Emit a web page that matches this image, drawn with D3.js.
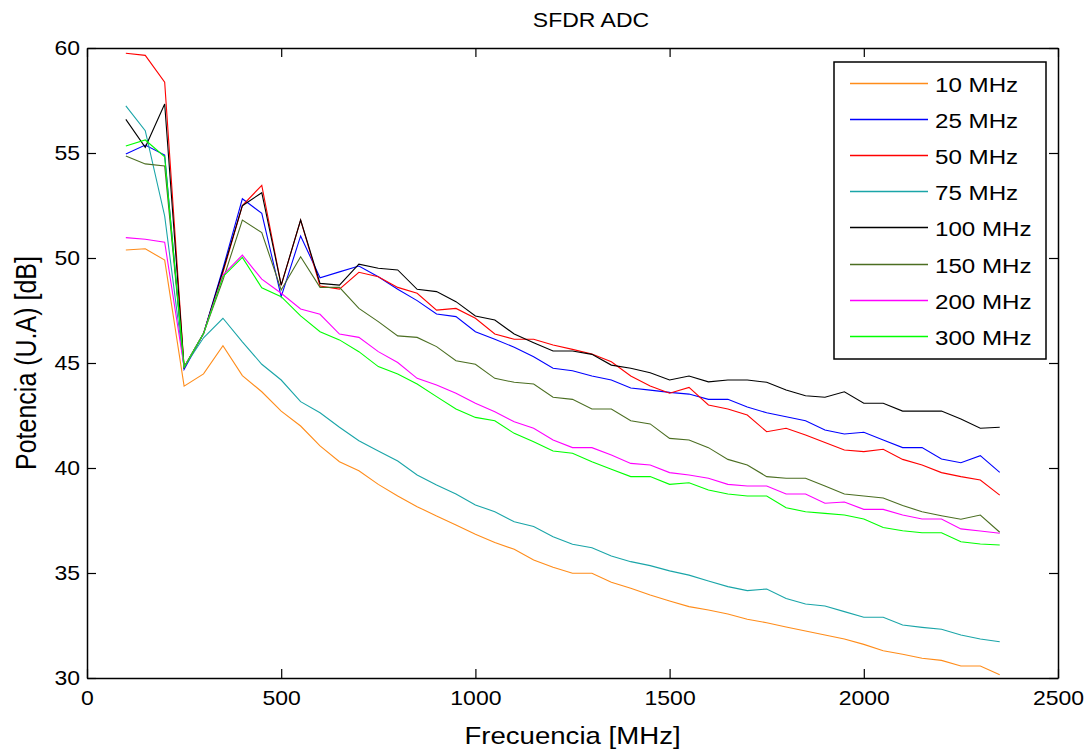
<!DOCTYPE html>
<html>
<head>
<meta charset="utf-8">
<script src="https://cdn.jsdelivr.net/npm/d3@7"></script>
<style>
  body { margin: 0; background: #fff; }
  text { font-family: "Liberation Sans", Arial, sans-serif; fill: #000; }
</style>
</head>
<body>
<svg width="1089" height="750"></svg>
<script>
// frequency axis (MHz)
const freq = [100,150,200,250,300,350,400,450,500,550,600,650,700,750,800,850,900,950,1000,1050,
  1100,1150,1200,1250,1300,1350,1400,1450,1500,1550,1600,1650,1700,1750,1800,1850,1900,1950,2000,2050,
  2100,2150,2200,2250,2300,2350];

const labels = ['10 MHz','25 MHz','50 MHz','75 MHz','100 MHz','150 MHz','200 MHz','300 MHz'];
const colors = ['#ff8c1a','#0000ff','#ff0000','#1aa5a8','#000000','#4b6e22','#ff00ff','#00ff00'];

const s10 = [50.38,50.44,49.90,43.9,44.48,45.82,44.40,43.63,42.71,42.0,41.05,40.30,39.87,39.22,38.67,38.16,37.71,37.29,36.84,36.45,
  36.13,35.62,35.27,34.99,34.99,34.56,34.27,33.95,33.67,33.40,33.24,33.05,32.80,32.63,32.43,32.24,32.05,31.86,31.60,31.30,
  31.13,30.94,30.84,30.57,30.57,30.16];
const s25 = [54.95,55.38,54.90,44.7,46.4,49.5,52.82,52.13,48.16,51.05,49.06,49.34,49.62,49.11,48.51,47.97,47.33,47.21,46.49,46.13,
  45.75,45.30,44.75,44.63,44.38,44.19,43.81,43.71,43.60,43.52,43.27,43.27,42.90,42.63,42.44,42.25,41.81,41.62,41.70,41.33,
  40.97,40.97,40.43,40.25,40.59,39.79];
const s50 = [59.75,59.65,58.37,44.8,46.4,49.3,52.5,53.46,48.7,51.8,48.67,48.52,49.32,49.11,48.60,48.32,47.52,47.60,47.13,46.38,
  46.13,46.13,45.86,45.65,45.43,45.06,44.38,43.90,43.56,43.84,43.0,42.81,42.52,41.73,41.89,41.57,41.21,40.86,40.78,40.89,
  40.41,40.14,39.78,39.59,39.43,38.71];
const s75 = [57.24,56.06,52.0,44.8,46.2,47.13,46.01,44.94,44.19,43.16,42.63,41.94,41.30,40.81,40.33,39.67,39.19,38.76,38.24,37.92,
  37.44,37.21,36.73,36.37,36.20,35.81,35.54,35.35,35.10,34.90,34.62,34.35,34.16,34.24,33.79,33.52,33.43,33.16,32.89,32.89,
  32.52,32.41,32.32,32.05,31.86,31.73];
const s100 = [56.60,55.27,57.33,44.8,46.4,49.4,52.49,53.11,48.71,51.81,48.79,48.71,49.71,49.51,49.43,48.51,48.40,47.92,47.24,47.05,
  46.38,45.97,45.57,45.57,45.41,44.90,44.75,44.54,44.19,44.38,44.10,44.19,44.19,44.08,43.71,43.44,43.37,43.63,43.08,43.08,
  42.71,42.71,42.71,42.33,41.89,41.94];
const s150 = [54.86,54.48,54.38,44.8,46.4,48.95,51.81,51.21,48.48,50.06,48.60,48.60,47.60,46.97,46.29,46.22,45.78,45.11,44.94,44.27,
  44.08,44.0,43.37,43.27,42.81,42.81,42.25,42.10,41.41,41.33,40.97,40.41,40.14,39.59,39.51,39.51,39.14,38.76,38.67,38.57,
  38.21,37.92,37.73,37.56,37.76,36.94];
const s200 = [50.97,50.89,50.75,44.8,46.4,49.19,50.14,48.99,48.32,47.57,47.32,46.38,46.22,45.54,45.02,44.27,43.95,43.56,43.08,42.68,
  42.20,41.89,41.33,40.97,40.97,40.62,40.22,40.14,39.78,39.67,39.51,39.22,39.14,39.14,38.76,38.76,38.32,38.38,38.03,38.03,
  37.76,37.57,37.57,37.10,37.0,36.89];
const s300 = [55.33,55.62,54.82,44.8,46.4,49.11,50.03,48.58,48.16,47.24,46.49,46.10,45.54,44.83,44.48,44.0,43.40,42.81,42.41,42.25,
  41.65,41.25,40.81,40.70,40.30,39.94,39.59,39.59,39.22,39.30,38.95,38.76,38.67,38.67,38.11,37.92,37.84,37.76,37.57,37.17,
  37.01,36.92,36.92,36.49,36.38,36.33];

const series = [s10,s25,s50,s75,s100,s150,s200,s300];
const xTicks = [0,500,1000,1500,2000,2500];
const yTicks = [30,35,40,45,50,55,60];

const svg = d3.select('svg');
const margin = {top: 48, right: 31, bottom: 72, left: 87};
const width = 1089 - margin.left - margin.right;
const height = 750 - margin.top - margin.bottom;
const stretch = 'scale(1.15,1)';

const x = d3.scaleLinear().domain([0, 2500]).range([0, width]);
const y = d3.scaleLinear().domain([30, 60]).range([height, 0]);

const g = svg.append('g').attr('transform', `translate(${margin.left},${margin.top})`);

// lines
const line = d3.line().x((d, i) => x(freq[i])).y(d => y(d));
series.forEach((s, k) => {
  g.append('path')
    .datum(s)
    .attr('fill', 'none')
    .attr('stroke', colors[k])
    .attr('stroke-width', 1.1)
    .attr('d', line);
});

// axes, ticks pointing inward like matlab
const tk = 9;
const fmt = d3.format('d');
const xAxis = g.append('g').attr('transform', `translate(0,${height})`)
  .call(d3.axisBottom(x).tickValues(xTicks).tickFormat(fmt).tickSizeInner(-tk).tickSizeOuter(0).tickPadding(13));
const yAxis = g.append('g')
  .call(d3.axisLeft(y).tickValues(yTicks).tickFormat(fmt).tickSizeInner(-tk).tickSizeOuter(0).tickPadding(6));
g.append('g')
  .call(d3.axisTop(x).tickValues(xTicks).tickSizeInner(-tk).tickSizeOuter(0).tickFormat(''));
g.append('g').attr('transform', `translate(${width},0)`)
  .call(d3.axisRight(y).tickValues(yTicks).tickSizeInner(-tk).tickSizeOuter(0).tickFormat(''));

g.selectAll('.tick line').attr('stroke', '#000').attr('stroke-width', 1.2);
g.selectAll('.domain').attr('stroke', '#000').attr('stroke-width', 1.5);
[xAxis, yAxis].forEach(a => a.selectAll('text')
  .attr('font-size', 20)
  .attr('font-family', '"Liberation Sans", Arial, sans-serif')
  .attr('fill', '#000')
  .attr('transform', stretch));

// title and axis labels
svg.append('text')
  .attr('transform', `translate(591,27) ${stretch}`)
  .attr('text-anchor', 'middle')
  .attr('font-size', 20)
  .text('SFDR ADC');

svg.append('text')
  .attr('transform', `translate(${margin.left + width / 2},744) ${stretch}`)
  .attr('text-anchor', 'middle')
  .attr('font-size', 24)
  .text('Frecuencia [MHz]');

svg.append('text')
  .attr('transform', `translate(36,${margin.top + height / 2}) ${stretch} rotate(-90)`)
  .attr('text-anchor', 'middle')
  .attr('font-size', 25)
  .text('Potencia (U.A) [dB]');

// legend
const lg = svg.append('g').attr('transform', 'translate(834,62)');
lg.append('rect')
  .attr('width', 212).attr('height', 297)
  .attr('fill', '#fff').attr('stroke', '#000').attr('stroke-width', 1.5);
labels.forEach((lab, k) => {
  const cy = Math.round(21 + k * 36.1) + 0.5;
  lg.append('line')
    .attr('x1', 16).attr('x2', 94).attr('y1', cy).attr('y2', cy)
    .attr('stroke', colors[k]).attr('stroke-width', 1.3);
  lg.append('text')
    .attr('transform', `translate(101,${cy + 8}) ${stretch}`)
    .attr('font-size', 21)
    .text(lab);
});
</script>
</body>
</html>
